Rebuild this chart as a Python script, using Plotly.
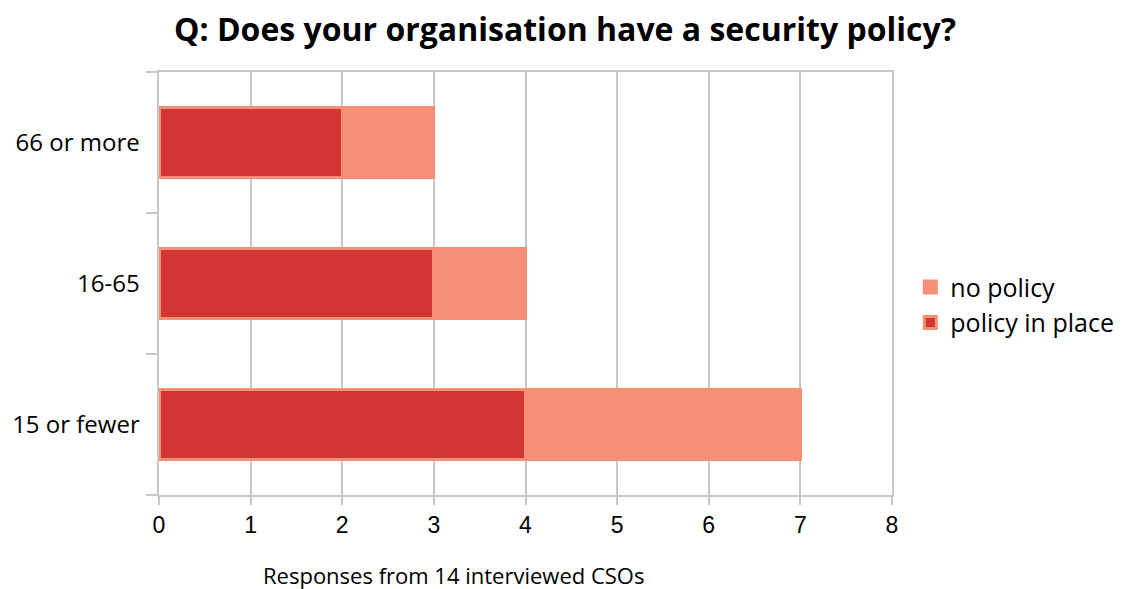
import plotly.graph_objects as go

categories = ["15 or fewer", "16-65", "66 or more"]
policy_in_place = [4, 3, 2]
no_policy = [3, 1, 1]
x_ticks = [0, 1, 2, 3, 4, 5, 6, 7, 8]

DARK = "#D13634"
LIGHT = "#F58F76"
GRID = "#C8C8C8"

fig = go.Figure()
fig.add_trace(go.Bar(
    y=categories, x=policy_in_place, orientation="h", name="policy in place",
    marker=dict(color=DARK, line=dict(color=LIGHT, width=3)), width=0.5,
))
fig.add_trace(go.Bar(
    y=categories, x=no_policy, orientation="h", name="no policy",
    marker=dict(color=LIGHT, line=dict(color=LIGHT, width=3)), width=0.5,
))

W, H = 1115, 581
fig.update_layout(
    barmode="stack",
    width=W, height=H,
    paper_bgcolor="white", plot_bgcolor="white",
    margin=dict(l=151, r=231, t=64, b=94, autoexpand=False),
    title=dict(text="<b>Q: Does your organisation have a security policy?</b>",
               x=(565 - 8) / W, xanchor="center", y=1 - 22 / H, yanchor="middle",
               font=dict(family="Open Sans", size=32, color="black")),
    legend=dict(traceorder="reversed", x=1.025, xanchor="left", y=0.45, yanchor="middle",
                font=dict(family="Open Sans", size=25, color="black"),
                itemwidth=30, tracegroupgap=0),
    showlegend=True,
    annotations=[dict(text="Responses from 14 interviewed CSOs", xref="paper", yref="paper",
                      x=(453 - 159) / (892 - 159), y=-0.188, xanchor="center", yanchor="middle",
                      showarrow=False, font=dict(family="Open Sans", size=22, color="black"))],
)
fig.update_xaxes(range=[0, 8], tickvals=x_ticks, showgrid=True, gridcolor=GRID, gridwidth=1.5,
                 showline=True, linecolor=GRID, linewidth=2, mirror=True,
                 ticks="outside", ticklen=8, tickcolor=GRID, tickwidth=2, automargin=False,
                 tickfont=dict(family="Liberation Sans", size=23, color="black"), zeroline=False)
fig.update_yaxes(type="category", categoryorder="array", categoryarray=categories,
                 tickson="boundaries", showgrid=False, showline=True, linecolor=GRID, linewidth=2,
                 mirror=True, ticks="outside", ticklen=11, tickcolor=GRID, tickwidth=2, automargin=False,
                 tickfont=dict(family="Open Sans", size=24, color="black"), ticksuffix="  ")

fig.write_html("out.html")
